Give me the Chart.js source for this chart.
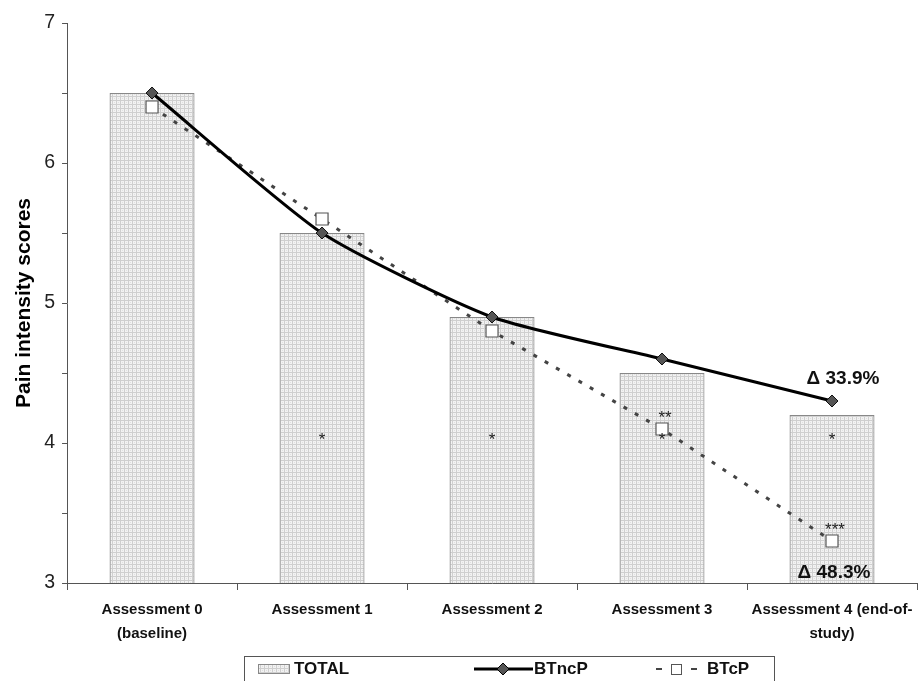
<!DOCTYPE html>
<html>
<head>
<meta charset="utf-8">
<script src="https://cdn.jsdelivr.net/npm/chart.js@4.4.1/dist/chart.umd.min.js"></script>
<style>
html,body{margin:0;padding:0;background:#fff;}
#wrap{width:918px;height:681px;}
</style>
</head>
<body>
<div id="wrap"><canvas id="c" width="918" height="681"></canvas></div>
<script>
// ---- data ----
const categories = [['Assessment 0', '(baseline)'], 'Assessment 1', 'Assessment 2', 'Assessment 3', ['Assessment 4 (end-of-', 'study)']];
const totalValues = [6.5, 5.5, 4.9, 4.5, 4.2];
const btncpValues = [6.5, 5.5, 4.9, 4.6, 4.3];
const btcpValues = [6.4, 5.6, 4.8, 4.1, 3.3];
const seriesNames = ['TOTAL', 'BTncP', 'BTcP'];
const yTicks = [3, 4, 5, 6, 7];
const barStars = ['', '*', '*', '*', '*'];
const btcpStars = ['', '', '', '**', '***'];
const deltaLabels = ['\u0394 33.9%', '\u0394 48.3%'];
const yTitle = 'Pain intensity scores';

// ---- styling / placement (not data) ----
const FONT = '"Liberation Sans", Arial, sans-serif';
const barStarLevel = 4.02;
const deltaPlacement = [{cat: 4, value: 4.46, dx: 11}, {cat: 4, value: 3.07, dx: 2}];

function makePattern() {
  const p = document.createElement('canvas');
  p.width = 4; p.height = 4;
  const g = p.getContext('2d');
  g.fillStyle = '#f2f2f2';
  g.fillRect(0, 0, 4, 4);
  g.fillStyle = '#cfcfcf';
  g.fillRect(0, 0, 4, 1);
  g.fillRect(0, 0, 1, 4);
  g.fillStyle = '#e0e0e0';
  g.fillRect(2, 2, 1, 1);
  return g.createPattern(p, 'repeat');
}
const ctx0 = document.getElementById('c').getContext('2d');
const pattern = makePattern();

const annotPlugin = {
  id: 'annot',
  afterDatasetsDraw(chart) {
    const ctx = chart.ctx;
    const x = chart.scales.x, y = chart.scales.y;
    ctx.save();
    ctx.fillStyle = '#222';
    ctx.textAlign = 'center';
    ctx.textBaseline = 'middle';
    ctx.font = '17px ' + FONT;
    barStars.forEach((s, i) => {
      if (s) ctx.fillText(s, x.getPixelForValue(i), y.getPixelForValue(barStarLevel));
    });
    btcpStars.forEach((s, i) => {
      if (s) ctx.fillText(s, x.getPixelForValue(i) + 3, y.getPixelForValue(btcpValues[i]) - 11);
    });
    ctx.font = 'bold 19px ' + FONT;
    ctx.fillStyle = '#111';
    deltaLabels.forEach((t, k) => {
      const p = deltaPlacement[k];
      ctx.fillText(t, x.getPixelForValue(p.cat) + p.dx, y.getPixelForValue(p.value));
    });
    ctx.restore();
  },
  afterDraw(chart) {
    // custom legend
    const ctx = chart.ctx;
    ctx.save();
    const bx = 244, by = 656, bw = 530, bh = 40;
    ctx.strokeStyle = '#555';
    ctx.lineWidth = 1;
    ctx.strokeRect(bx + 0.5, by + 0.5, bw, bh);
    const cy = 669;
    ctx.font = 'bold 17px ' + FONT;
    ctx.fillStyle = '#111';
    ctx.textBaseline = 'middle';
    ctx.textAlign = 'left';
    // TOTAL
    ctx.fillStyle = pattern;
    ctx.fillRect(258, cy - 5, 32, 10);
    ctx.strokeStyle = '#888';
    ctx.strokeRect(258.5, cy - 4.5, 31, 9);
    ctx.fillStyle = '#111';
    ctx.fillText(seriesNames[0], 294, cy);
    // BTncP
    ctx.strokeStyle = '#000';
    ctx.lineWidth = 3;
    ctx.beginPath(); ctx.moveTo(474, cy); ctx.lineTo(533, cy); ctx.stroke();
    ctx.fillStyle = '#555';
    ctx.lineWidth = 1;
    ctx.beginPath();
    ctx.moveTo(503, cy - 6); ctx.lineTo(509, cy); ctx.lineTo(503, cy + 6); ctx.lineTo(497, cy); ctx.closePath();
    ctx.fill(); ctx.stroke();
    ctx.fillStyle = '#111';
    ctx.fillText(seriesNames[1], 534, cy);
    // BTcP
    ctx.strokeStyle = '#444';
    ctx.lineWidth = 2;
    ctx.beginPath(); ctx.moveTo(656, cy); ctx.lineTo(662, cy); ctx.stroke();
    ctx.beginPath(); ctx.moveTo(691, cy); ctx.lineTo(697, cy); ctx.stroke();
    ctx.fillStyle = '#fff';
    ctx.strokeStyle = '#555';
    ctx.lineWidth = 1;
    ctx.fillRect(671, cy - 5, 11, 11);
    ctx.strokeRect(671.5, cy - 4.5, 10, 10);
    ctx.fillStyle = '#111';
    ctx.fillText(seriesNames[2], 707, cy);
    ctx.restore();
  }
};

new Chart(ctx0, {
  data: {
    labels: categories,
    datasets: [
      {
        type: 'line', label: seriesNames[1], data: btncpValues,
        borderColor: '#000', borderWidth: 3, tension: 0.2,
        pointStyle: 'rectRot', pointRadius: 6, pointBackgroundColor: '#555',
        pointBorderColor: '#111', pointBorderWidth: 1, order: 1
      },
      {
        type: 'line', label: seriesNames[2], data: btcpValues,
        borderColor: '#444', borderWidth: 3, borderDash: [4, 9], tension: 0,
        pointStyle: 'rect', pointRadius: 8.5, pointBackgroundColor: '#fff',
        pointBorderColor: '#555', pointBorderWidth: 1.2, order: 2
      },
      {
        type: 'bar', label: seriesNames[0], data: totalValues,
        backgroundColor: pattern, borderColor: '#888', borderWidth: 1.2,
        barPercentage: 0.5, categoryPercentage: 1.0, order: 3
      }
    ]
  },
  options: {
    responsive: false,
    animation: false,
    layout: {autoPadding: false, padding: {top: 23, right: 1, bottom: 27, left: 12}},
    plugins: {legend: {display: false}, tooltip: {enabled: false}},
    scales: {
      x: {
        offset: true,
        afterFit(scale) { scale.paddingRight = 0; scale.paddingLeft = 0; },
        grid: {display: true, drawOnChartArea: false, drawTicks: true, tickLength: 7, offset: true, color: '#555'},
        border: {display: true, color: '#555', width: 1},
        ticks: {color: '#111', font: {family: FONT, size: 15, weight: 'bold', lineHeight: 1.6}, padding: 8, maxRotation: 0, autoSkip: false}
      },
      y: {
        min: 3, max: 7,
        afterBuildTicks(axis) {
          const t = [];
          for (let v = yTicks[0]; v <= yTicks[yTicks.length - 1] + 1e-9; v += 0.5) t.push({value: v});
          axis.ticks = t;
        },
        grid: {display: true, drawOnChartArea: false, drawTicks: true, tickLength: 5, color: '#555'},
        border: {display: true, color: '#555', width: 1},
        ticks: {
          color: '#222', font: {family: FONT, size: 19.5}, padding: 7,
          callback: (v) => yTicks.includes(v) ? String(v) : ''
        },
        title: {display: true, text: yTitle, color: '#000', font: {family: FONT, size: 21, weight: 'bold'}, padding: {top: 0, bottom: 0}}
      }
    }
  },
  plugins: [annotPlugin]
});
</script>
</body>
</html>
